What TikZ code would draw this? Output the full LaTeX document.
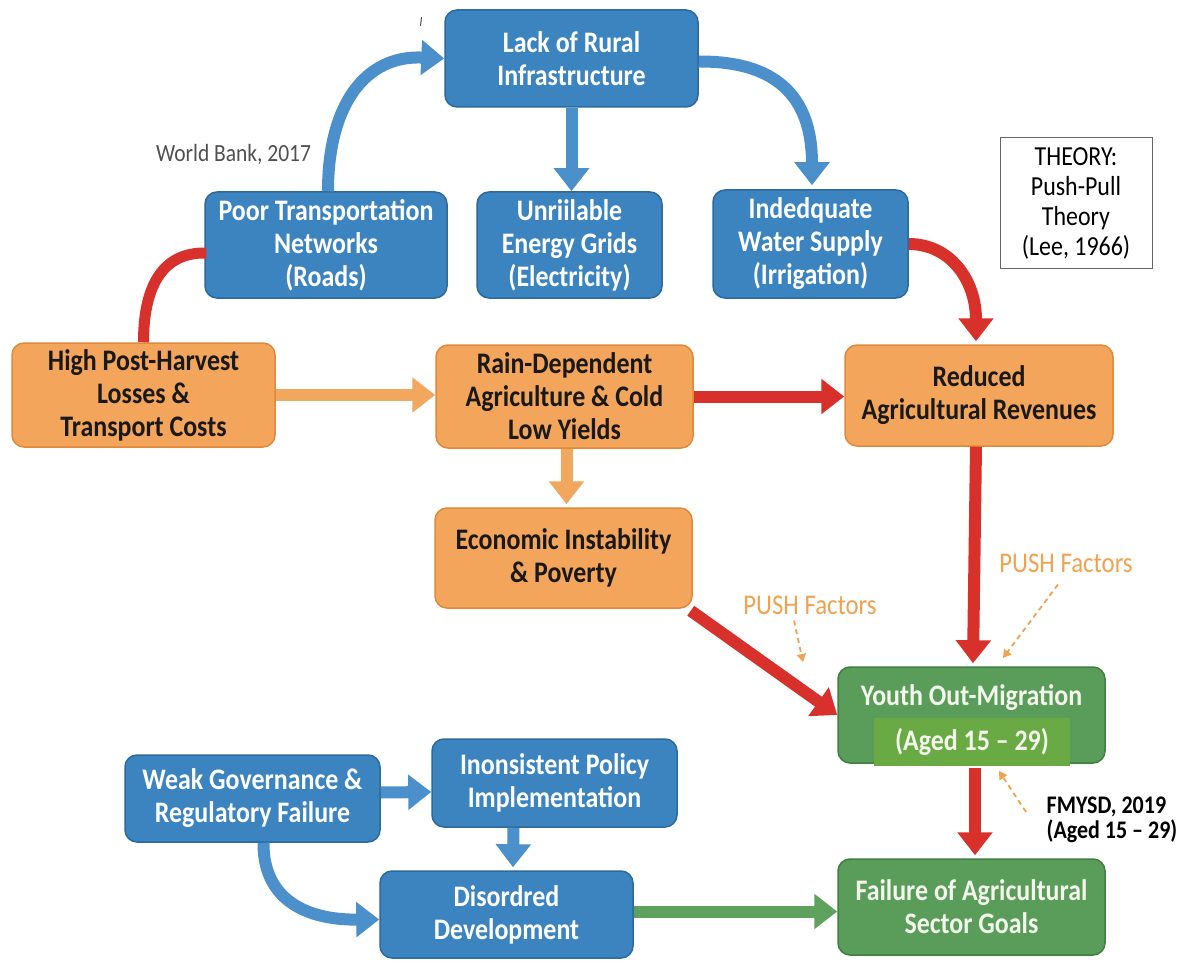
\documentclass[tikz,border=0pt]{standalone}
\usepackage{fontspec}
\setmainfont{Carlito}[FakeStretch=0.87]
\usetikzlibrary{arrows.meta,calc}
\definecolor{boxblue}{HTML}{3B84C0}
\definecolor{boxblueD}{HTML}{2C6A9C}
\definecolor{boxorange}{HTML}{F4A55C}
\definecolor{boxorangeD}{HTML}{E0893A}
\definecolor{boxgreen}{HTML}{5A9D5B}
\definecolor{boxgreenD}{HTML}{407E42}
\definecolor{agedgreen}{HTML}{6AAA45}
\definecolor{arrblue}{HTML}{4B90CB}
\definecolor{arrred}{HTML}{D8302B}
\definecolor{arrorange}{HTML}{F2A75E}
\definecolor{arrgreen}{HTML}{5EA25E}
\definecolor{pushorange}{HTML}{EFA24F}
\definecolor{wbgray}{HTML}{505050}
\definecolor{greentext}{HTML}{F3F6EA}
\newcommand\boxfont{\fontsize{29.8}{33}\selectfont\bfseries}
\tikzset{
  box/.style={rectangle, rounded corners=12pt, line width=1.5pt, align=center, inner sep=0pt, font=\boxfont},
  bluebox/.style={box, fill=boxblue, draw=boxblueD, text=white},
  orangebox/.style={box, fill=boxorange, draw=boxorangeD, text=black!90},
  greenbox/.style={box, fill=boxgreen, draw=boxgreenD, text=greentext},
  fat/.style={line width=12pt, -{Triangle[width=34pt,length=23pt]}},
  link/.style={line width=11pt},
  dasharrow/.style={draw=pushorange, line width=1.8pt, dash pattern=on 5pt off 4pt, -{Triangle[width=9pt,length=8pt]}},
  pushlabel/.style={text=pushorange, font=\fontsize{28.5}{32}\selectfont, inner sep=0pt},
}
\begin{document}
\begin{tikzpicture}[x=1pt,y=-1pt]
\useasboundingbox (0,0) rectangle (1187,963);
\fill[white] (0,0) rectangle (1187,963);

% nodes
\node[bluebox, minimum width=253pt, minimum height=97pt] (lack) at (571.5,58.5) {Lack of Rural\\Infrastructure};
\node[bluebox, minimum width=242pt, minimum height=106pt] (poor) at (326,245) {Poor Transportation\\Networks\\(Roads)};
\node[bluebox, minimum width=185pt, minimum height=106pt] (unr) at (569.5,245) {Unriilable\\Energy Grids\\(Electricity)};
\node[bluebox, minimum width=195pt, minimum height=108pt] (ind) at (810.5,244) {Indedquate\\Water Supply\\(Irrigation)};
\node[draw=black!60, line width=1pt, fill=white, minimum width=152pt, minimum height=130pt, align=center, inner sep=0pt, font=\fontsize{27.5}{30}\selectfont] (theory) at (1076,203) {THEORY:\\Push-Pull\\Theory\\(Lee, 1966)};
\node[text=wbgray, font=\fontsize{24.7}{28}\selectfont, inner sep=0pt] (wb) at (233.5,155) {World Bank, 2017};

\node[orangebox, minimum width=263pt, minimum height=104pt] (high) at (143.5,395) {High Post-Harvest\\Losses \&\\Transport Costs};
\node[orangebox, minimum width=257pt, minimum height=103pt] (rain) at (564.5,396.5) {Rain-Dependent\\Agriculture \& Cold\\Low Yields};
\node[orangebox, minimum width=268pt, minimum height=101pt] (red) at (979,395.5) {Reduced\\Agricultural Revenues};
\node[orangebox, minimum width=257pt, minimum height=100pt] (econ) at (563.5,558) {Economic Instability\\\& Poverty};

\node[greenbox, minimum width=267pt, minimum height=96pt] (youth) at (971.5,715) {};
\node[text=greentext, font=\boxfont, inner sep=0pt] (youthtxt) at (971.5,698) {Youth Out-Migration};
\node[fill=agedgreen, minimum width=196pt, minimum height=48pt, inner sep=0pt, text=greentext, font=\boxfont] (aged) at (972,742) {(Aged 15 – 29)};
\node[greenbox, minimum width=267pt, minimum height=96pt] (fail) at (971.5,907) {Failure of Agricultural\\Sector Goals};

\node[bluebox, minimum width=255pt, minimum height=87pt] (weak) at (252.5,798.5) {Weak Governance \&\\Regulatory Failure};
\node[bluebox, minimum width=245pt, minimum height=88pt] (inc) at (554.5,783) {Inonsistent Policy\\Implementation};
\node[bluebox, minimum width=253pt, minimum height=87pt] (dis) at (506.5,914.5) {Disordred\\Development};

\node[pushlabel] (push1) at (810,605) {PUSH Factors};
\node[pushlabel] (push2) at (1066,563) {PUSH Factors};
\node[align=left, inner sep=0pt, font=\fontsize{25.3}{25}\selectfont\bfseries] (fmysd) at (1112,820) {FMYSD, 2019\\(Aged 15 – 29)};

% blue connectors
\draw[fat, arrblue] ($(poor.north)+(2,0)$) .. controls (328,105) and (365,55) .. (lack.west);
\draw[fat, arrblue] (lack.south) -- (lack.south |- unr.north);
\draw[fat, arrblue] ($(lack.east)+(0,3)$) .. controls (785,61) and (812,105) .. ($(ind.north)+(1.5,-4)$);
\draw[fat, arrblue] ($(weak.east)+(0,-6)$) -- ($(inc.west)+(0,9)$);
\draw[fat, arrblue] ($(inc.south)+(-41,0)$) -- ($(dis.north)+(6.5,-3)$);
\draw[fat, arrblue] ($(weak.south)+(11,0)$) .. controls (263,895) and (300,920) .. ($(dis.west)+(0,5)$);

% red connectors
\draw[link, arrred] (high.north) .. controls (143.5,290) and (160,252) .. ($(poor.west)+(2,8)$);
\draw[fat, arrred] (ind.east) .. controls (950,244) and (976,280) .. ($(red.north)+(-3,-3)$);
\draw[fat, arrred] (rain.east) -- (rain.east -| red.west);
\draw[fat, arrred] ($(red.south)+(-3,0)$) -- ($(youth.north)+(1.5,-3)$);
\draw[fat, arrred] ($(econ.south east)+(-2,2)$) -- (youth.west);
\draw[fat, arrred] ($(youth.south)+(3.5,4)$) -- ($(fail.north)+(3.5,-3)$);

% orange and green connectors
\draw[fat, arrorange] (high.east) -- (high.east -| rain.west);
\draw[fat, arrorange] ($(rain.south)+(2,0)$) -- ($(econ.north)+(3,-3)$);
\draw[fat, arrgreen] ($(dis.east)+(0,-3)$) -- ($(fail.west)+(0,4.5)$);

% dashed pointers
\coordinate (p1end) at (803,662);
\coordinate (p2end) at (1003,658);
\coordinate (fmend) at (999,771);
\coordinate (fmstart) at (1026,812);
\draw[dasharrow] ($(push1.south)+(-16,6)$) -- (p1end);
\draw[dasharrow] ($(push2.south)+(-8,12)$) -- (p2end);
\draw[dasharrow] (fmstart) -- (fmend);

% stray mark
\coordinate (m1) at (421.5,17);
\coordinate (m2) at (420.5,26);
\draw[black!70, line width=1pt] (m1) -- (m2);
\end{tikzpicture}
\end{document}
